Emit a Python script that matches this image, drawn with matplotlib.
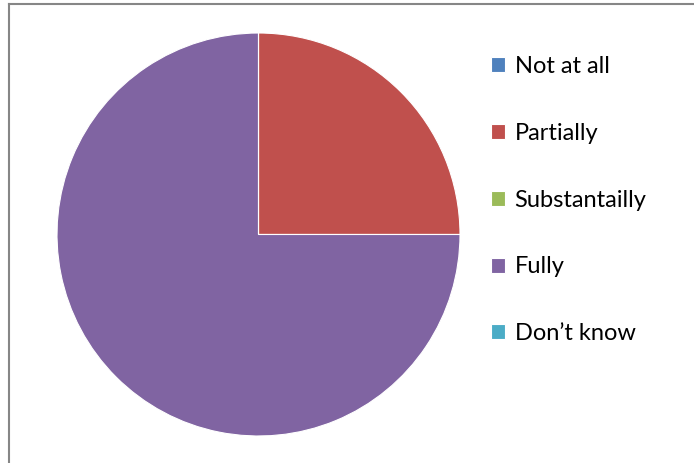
import matplotlib
matplotlib.use("Agg")
from matplotlib import pyplot as plt
from matplotlib.lines import Line2D

labels = ["Not at all", "Partially", "Substantailly", "Fully", "Don\u2019t know"]
values = [0, 25, 0, 75, 0]
colors = ["#4F81BD", "#C0504D", "#9BBB59", "#8064A2", "#4BACC6"]

plt.rcParams["font.family"] = ["Lato", "DejaVu Sans"]

fig = plt.figure(figsize=(6.94, 4.63), dpi=100)
ax = fig.add_axes([57 / 694, 27 / 463, 403 / 694, 403 / 463])
wedges, _ = ax.pie(values, colors=colors, startangle=90, counterclock=False,
                   wedgeprops=dict(edgecolor="white", linewidth=0.8))
ax.set_xlim(-1, 1)
ax.set_ylim(-1, 1)
ax.set_aspect("equal")

fig.legend(wedges, labels, loc="upper left", bbox_to_anchor=(491 / 694, 1 - 56 / 463),
           frameon=False, fontsize=17, labelspacing=1.94, handlelength=0.6,
           handleheight=0.6, handletextpad=0.4, borderpad=0, borderaxespad=0)

# chart border (only top and left visible)
fig.add_artist(Line2D([8.5 / 694, 1], [1 - 3.5 / 463, 1 - 3.5 / 463],
                      transform=fig.transFigure, color="#868686", lw=1.5))
fig.add_artist(Line2D([8.5 / 694, 8.5 / 694], [0, 1 - 3.5 / 463],
                      transform=fig.transFigure, color="#868686", lw=1.5))

fig.savefig("out.png", dpi=100)
